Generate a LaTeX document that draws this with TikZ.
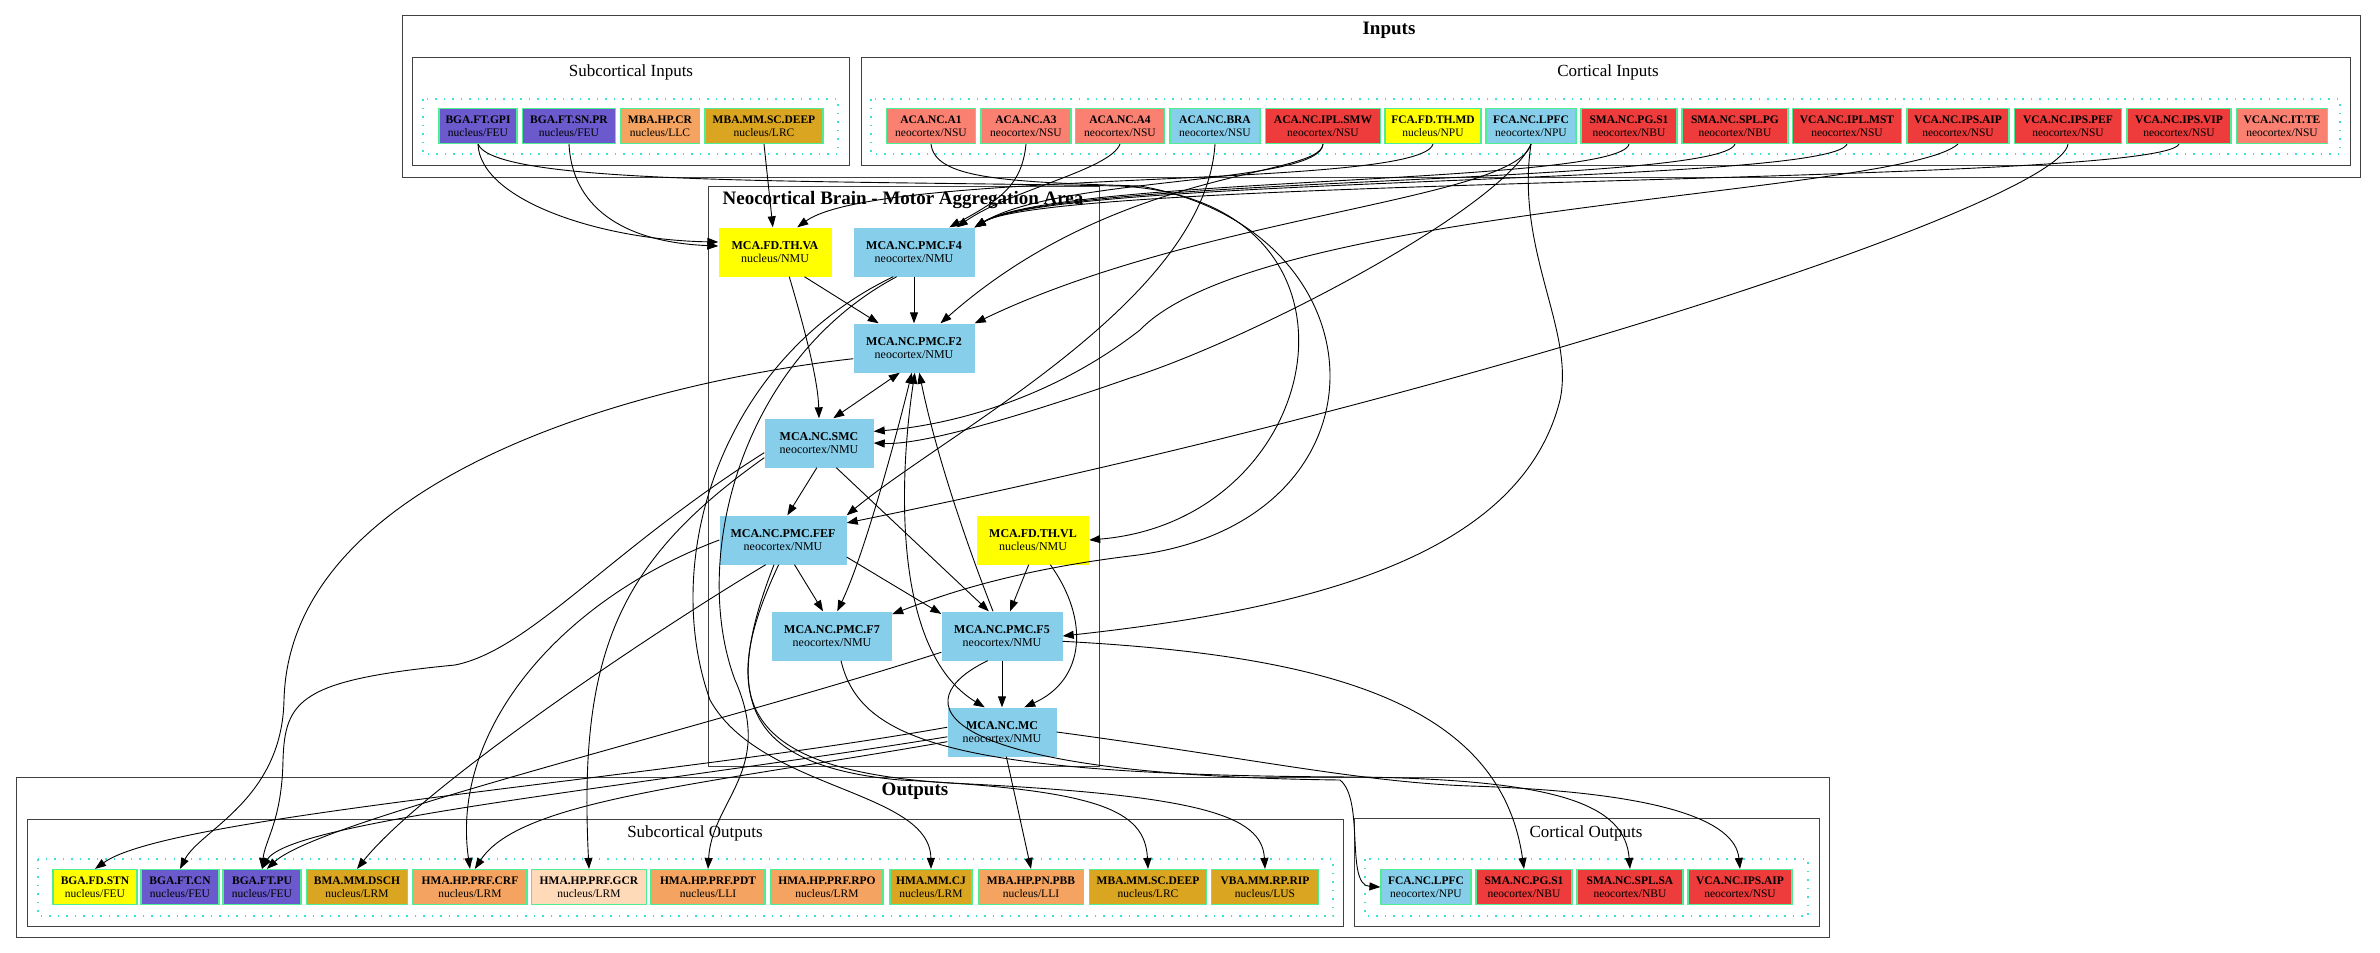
\documentclass[tikz,border=0pt]{standalone}
\usepackage{fontspec}
\setmainfont{Liberation Serif}
\usepackage{tikz}
\usetikzlibrary{arrows.meta}
\definecolor{slate}{HTML}{6A5ACD}
\definecolor{sandy}{HTML}{F4A460}
\definecolor{golden}{HTML}{DAA520}
\definecolor{salmonc}{HTML}{FA8072}
\definecolor{skyc}{HTML}{87CEEB}
\definecolor{redc}{HTML}{EE3B3B}
\definecolor{yellowc}{HTML}{FFFF00}
\definecolor{peach}{HTML}{FFDAB9}
\definecolor{unitedge}{HTML}{4EEE94}
\definecolor{poolcol}{HTML}{40E0D0}

\begin{document}
\begin{tikzpicture}[
    x=1pt, y=-1pt,
    >={Triangle[length=11pt, width=8pt]},
    every node/.style={align=center, font=\fontsize{11.5}{13}\selectfont},
    unit/.style 2 args={draw=unitedge, line width=1.2pt, fill=#1, minimum width=#2, minimum height=35pt, inner sep=1pt},
    area/.style 2 args={fill=#1, minimum width=#2, minimum height=49pt, inner sep=1pt, font=\fontsize{12}{13.5}\selectfont},
    cluster/.style={draw=black!75, line width=1pt},
    pool/.style={draw=poolcol, line width=1.5pt, dash pattern=on 1.5pt off 7pt},
    title/.style={font=\fontsize{17}{20}\selectfont},
    btitle/.style={font=\fontsize{19}{22}\selectfont\bfseries},
    link/.style={->, line width=0.9pt}
]
    \useasboundingbox (0,0) rectangle (2380,953);

    % inputs
    \draw[cluster] (402,15) rectangle (2360,177);
    \node[btitle] (tin) at (1389,30) {Inputs};
    \draw[cluster] (412,57) rectangle (849,165);
    \node[title] (tsubin) at (631,72) {Subcortical Inputs};
    \draw[pool] (423,99) rectangle (838,154);
    \draw[cluster] (861,57) rectangle (2350,165);
    \node[title] (tcorin) at (1608,72) {Cortical Inputs};
    \draw[pool] (871,99) rectangle (2340,154);

    \node[unit={slate}{78pt}] (gpi) at (478,126) {\textbf{BGA.FT.GPI}\\nucleus/FEU};
    \node[unit={slate}{93pt}] (snpr) at (569,126) {\textbf{BGA.FT.SN.PR}\\nucleus/FEU};
    \node[unit={sandy}{79pt}] (crin) at (660,126) {\textbf{MBA.HP.CR}\\nucleus/LLC};
    \node[unit={golden}{118pt}] (deepin) at (764,126) {\textbf{MBA.MM.SC.DEEP}\\nucleus/LRC};
    \node[unit={salmonc}{89pt}] (a1) at (931,126) {\textbf{ACA.NC.A1}\\neocortex/NSU};
    \node[unit={salmonc}{90pt}] (a3) at (1026,126) {\textbf{ACA.NC.A3}\\neocortex/NSU};
    \node[unit={salmonc}{89pt}] (a4) at (1120,126) {\textbf{ACA.NC.A4}\\neocortex/NSU};
    \node[unit={skyc}{90pt}] (bra) at (1215,126) {\textbf{ACA.NC.BRA}\\neocortex/NSU};
    \node[unit={redc}{115pt}] (smw) at (1323,126) {\textbf{ACA.NC.IPL.SMW}\\neocortex/NSU};
    \node[unit={yellowc}{96pt}] (md) at (1433,126) {\textbf{FCA.FD.TH.MD}\\nucleus/NPU};
    \node[unit={skyc}{90pt}] (lpfc) at (1531,126) {\textbf{FCA.NC.LPFC}\\neocortex/NPU};
    \node[unit={redc}{96pt}] (s1in) at (1629,126) {\textbf{SMA.NC.PG.S1}\\neocortex/NBU};
    \node[unit={redc}{106pt}] (splpg) at (1735,126) {\textbf{SMA.NC.SPL.PG}\\neocortex/NBU};
    \node[unit={redc}{109pt}] (mst) at (1847,126) {\textbf{VCA.NC.IPL.MST}\\neocortex/NSU};
    \node[unit={redc}{102pt}] (aipin) at (1958,126) {\textbf{VCA.NC.IPS.AIP}\\neocortex/NSU};
    \node[unit={redc}{107pt}] (pef) at (2068,126) {\textbf{VCA.NC.IPS.PEF}\\neocortex/NSU};
    \node[unit={redc}{104pt}] (vip) at (2179,126) {\textbf{VCA.NC.IPS.VIP}\\neocortex/NSU};
    \node[unit={salmonc}{91pt}] (te) at (2282,126) {\textbf{VCA.NC.IT.TE}\\neocortex/NSU};

    % motor aggregation area
    \draw[cluster] (708,186) rectangle (1099,766);
    \node[btitle] (tmca) at (903,200) {Neocortical Brain - Motor Aggregation Area};
    \node[area={yellowc}{113pt}] (va) at (775,252) {\textbf{MCA.FD.TH.VA}\\nucleus/NMU};
    \node[area={skyc}{121pt}] (f4) at (914,252) {\textbf{MCA.NC.PMC.F4}\\neocortex/NMU};
    \node[area={skyc}{121pt}] (f2) at (914,348) {\textbf{MCA.NC.PMC.F2}\\neocortex/NMU};
    \node[area={skyc}{109pt}] (smc) at (819,443) {\textbf{MCA.NC.SMC}\\neocortex/NMU};
    \node[area={skyc}{127pt}] (fef) at (783,540) {\textbf{MCA.NC.PMC.FEF}\\neocortex/NMU};
    \node[area={yellowc}{112pt}] (vl) at (1033,540) {\textbf{MCA.FD.TH.VL}\\nucleus/NMU};
    \node[area={skyc}{120pt}] (f7) at (832,636) {\textbf{MCA.NC.PMC.F7}\\neocortex/NMU};
    \node[area={skyc}{121pt}] (f5) at (1002,636) {\textbf{MCA.NC.PMC.F5}\\neocortex/NMU};
    \node[area={skyc}{109pt}] (mc) at (1002,732) {\textbf{MCA.NC.MC}\\neocortex/NMU};

    % outputs
    \draw[cluster] (16,777) rectangle (1829,937);
    \node[btitle] (tout) at (915,791) {Outputs};
    \draw[cluster] (27,819) rectangle (1343,926);
    \node[title] (tsubout) at (695,833) {Subcortical Outputs};
    \draw[pool] (38,859) rectangle (1333,916);
    \draw[cluster] (1354,818) rectangle (1819,926);
    \node[title] (tcorout) at (1586,833) {Cortical Outputs};
    \draw[pool] (1365,859) rectangle (1808,916);

    \node[unit={yellowc}{84pt}] (stn) at (95,887) {\textbf{BGA.FD.STN}\\nucleus/FEU};
    \node[unit={slate}{78pt}] (cn) at (180,887) {\textbf{BGA.FT.CN}\\nucleus/FEU};
    \node[unit={slate}{78pt}] (pu) at (262,887) {\textbf{BGA.FT.PU}\\nucleus/FEU};
    \node[unit={golden}{101pt}] (dsch) at (357,887) {\textbf{BMA.MM.DSCH}\\nucleus/LRM};
    \node[unit={sandy}{114pt}] (crf) at (470,887) {\textbf{HMA.HP.PRF.CRF}\\nucleus/LRM};
    \node[unit={peach}{115pt}] (gcr) at (589,887) {\textbf{HMA.HP.PRF.GCR}\\nucleus/LRM};
    \node[unit={sandy}{114pt}] (pdt) at (708,887) {\textbf{HMA.HP.PRF.PDT}\\nucleus/LLI};
    \node[unit={sandy}{112pt}] (rpo) at (827,887) {\textbf{HMA.HP.PRF.RPO}\\nucleus/LRM};
    \node[unit={golden}{82pt}] (cj) at (931,887) {\textbf{HMA.MM.CJ}\\nucleus/LRM};
    \node[unit={sandy}{105pt}] (pbb) at (1031,887) {\textbf{MBA.HP.PN.PBB}\\nucleus/LLI};
    \node[unit={golden}{117pt}] (deepout) at (1148,887) {\textbf{MBA.MM.SC.DEEP}\\nucleus/LRC};
    \node[unit={golden}{107pt}] (rip) at (1265,887) {\textbf{VBA.MM.RP.RIP}\\nucleus/LUS};
    \node[unit={skyc}{90pt}] (lpfcout) at (1426,887) {\textbf{FCA.NC.LPFC}\\neocortex/NPU};
    \node[unit={redc}{96pt}] (s1out) at (1524,887) {\textbf{SMA.NC.PG.S1}\\neocortex/NBU};
    \node[unit={redc}{106pt}] (saout) at (1630,887) {\textbf{SMA.NC.SPL.SA}\\neocortex/NBU};
    \node[unit={redc}{104pt}] (aipout) at (1740,887) {\textbf{VCA.NC.IPS.AIP}\\neocortex/NSU};

    % inputs -> area
    \draw[link] (gpi.south) .. controls (480,200) and (600,240) .. (va.170);
    \draw[link] (snpr.south) .. controls (572,205) and (620,242) .. (va.174);
    \draw[link] (deepin.south) -- (va.95);
    \draw[link] (md.south) .. controls (1420,190) and (880,168) .. (va.48);
    \draw[link] (gpi.south) .. controls (495,185) and (800,180) .. (1120,186) .. controls (1390,200) and (1330,520) .. (vl.east);
    \draw[link] (a1.south) .. controls (935,178) and (1000,182) .. (1140,186) .. controls (1390,230) and (1400,525) .. (1130,556) .. controls (1000,572) and (930,600) .. (f7.20);
    \draw[link] (a3.south) .. controls (1022,185) and (1000,200) .. (f4.35);
    \draw[link] (a4.south) .. controls (1110,170) and (1010,190) .. (f4.30);
    \foreach \src/\cx in {smw/1320, s1in/1620, splpg/1720, mst/1830, vip/2160}
        \draw[link] (\src.south) .. controls (\cx,185) and (1060,176) .. (f4.north east);
    \draw[link] (smw.south) .. controls (1320,178) and (1120,165) .. (f2.43);
    \draw[link] (lpfc.south) .. controls (1515,200) and (1200,215) .. (f2.north east);
    \draw[link] (aipin.south) .. controls (1900,195) and (1260,205) .. (1140,330) .. controls (1050,400) and (950,425) .. (smc.12);
    \draw[link] (lpfc.south) .. controls (1500,210) and (1250,340) .. (1130,378) .. controls (1010,420) and (920,445) .. (smc.east);
    \draw[link] (bra.south) .. controls (1205,300) and (950,430) .. (fef.north east);
    \draw[link] (pef.south) .. controls (2060,200) and (1500,390) .. (fef.15);
    \draw[link] (lpfc.south) .. controls (1515,250) and (1575,330) .. (1560,400) .. controls (1520,560) and (1300,610) .. (f5.east);

    % inside the area
    \draw[link] (va.-40) -- (f2.145);
    \draw[link] (va.-60) .. controls (805,330) and (818,380) .. (smc.north);
    \draw[link] (f4) -- (f2);
    \draw[link, <->] (smc.60) -- (f2.-120);
    \draw[link, <->] (f2.-95) .. controls (893,450) and (862,560) .. (f7.78);
    \draw[link, <->] (f2.-88) .. controls (900,470) and (890,650) .. (mc.125);
    \draw[link] (f5.110) .. controls (965,540) and (935,450) .. (f2.-78);
    \draw[link] (smc.-95) -- (fef.80);
    \draw[link] (smc.-55) -- (f5.118);
    \draw[link] (fef.-65) -- (f7.110);
    \draw[link] (fef.-15) -- (f5.160);
    \draw[link] (vl.-100) -- (f5.72);
    \draw[link] (vl.-55) .. controls (1090,620) and (1085,680) .. (mc.48);
    \draw[link] (f5) -- (mc);

    % area -> outputs
    \draw[link] (mc.175) .. controls (650,780) and (170,815) .. (stn.north);
    \draw[link] (mc.-175) .. controls (650,785) and (290,820) .. (pu.north);
    \draw[link] (f5.-165) .. controls (700,730) and (320,820) .. (pu.75);
    \draw[link] (mc.-170) .. controls (700,785) and (520,800) .. (crf.75);
    \draw[link] (mc.-80) -- (pbb.north);
    \draw[link] (mc.east) .. controls (1250,758) and (1360,782) .. (1470,786) .. controls (1660,792) and (1735,820) .. (aipout.north);
    \draw[link] (f5.-5) .. controls (1320,655) and (1500,700) .. (s1out.north);
    \draw[link] (f5.-120) .. controls (905,700) and (920,775) .. (1340,780) .. controls (1365,800) and (1345,885) .. (lpfcout.west);
    \draw[link] (f7.-70) .. controls (860,740) and (950,776) .. (1360,777) .. controls (1560,780) and (1625,805) .. (saout.north);
    \draw[link] (f2.-170) .. controls (660,380) and (290,470) .. (284,700) .. controls (282,800) and (200,830) .. (cn.north);
    \draw[link] (smc.-170) .. controls (610,550) and (530,650) .. (455,665) .. controls (300,680) and (285,700) .. (283,760) .. controls (282,820) and (265,840) .. (pu.north);
    \draw[link] (fef.-125) .. controls (640,640) and (420,790) .. (dsch.north);
    \draw[link] (fef.west) .. controls (560,600) and (450,730) .. (crf.north);
    \draw[link] (smc.-165) .. controls (620,560) and (578,650) .. (gcr.north);
    \draw[link] (f4.-130) .. controls (720,360) and (660,560) .. (710,700) .. controls (760,790) and (930,790) .. (cj.north);
    \draw[link] (f4.-125) .. controls (740,360) and (690,560) .. (735,680) .. controls (775,770) and (712,800) .. (pdt.north);
    \draw[link] (fef.-110) .. controls (725,690) and (735,765) .. (900,780) .. controls (1100,790) and (1145,810) .. (deepout.north);
    \draw[link] (fef.-100) .. controls (715,700) and (740,770) .. (950,783) .. controls (1200,795) and (1262,815) .. (rip.north);
\end{tikzpicture}
\end{document}
